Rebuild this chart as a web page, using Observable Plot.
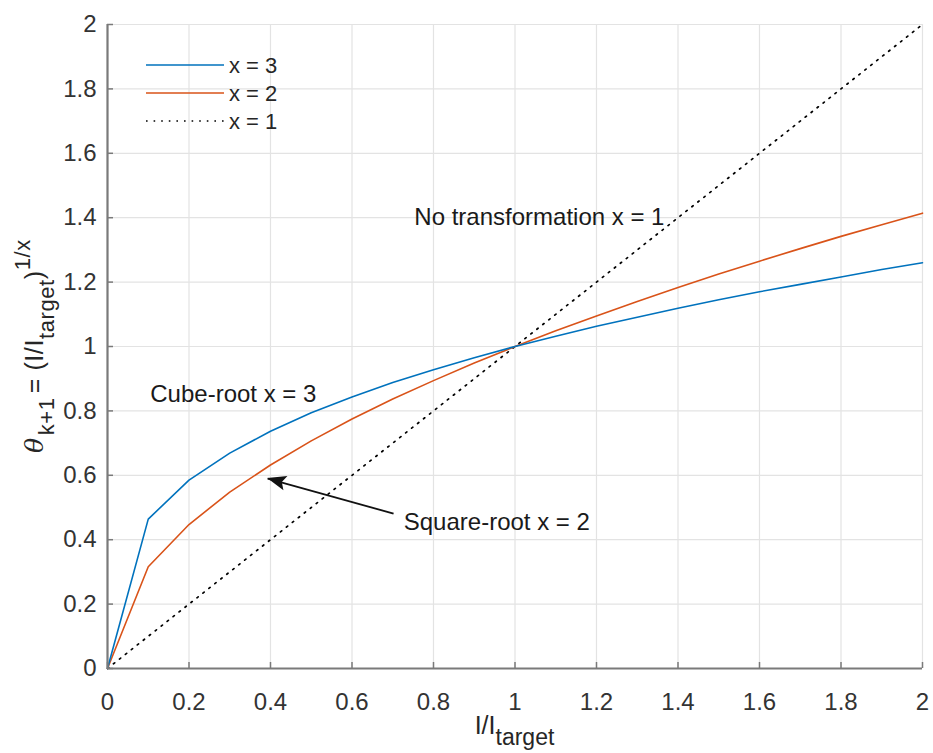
<!DOCTYPE html>
<html>
<head>
<meta charset="utf-8">
<script src="https://cdn.jsdelivr.net/npm/d3@7"></script>
<script src="https://cdn.jsdelivr.net/npm/@observablehq/plot@0.6"></script>
<style>
  html, body { margin: 0; padding: 0; background: #fff; }
  #chart { position: relative; width: 933px; height: 753px; }
</style>
</head>
<body>
<div id="chart"></div>
<script>
// ---- data ----
const ratio = [0, 0.1, 0.2, 0.3, 0.4, 0.5, 0.6, 0.7, 0.8, 0.9, 1.0, 1.1, 1.2, 1.3, 1.4, 1.5, 1.6, 1.7, 1.8, 1.9, 2.0];
const cubeRoot = [0, 0.464, 0.585, 0.669, 0.737, 0.794, 0.843, 0.888, 0.928, 0.965, 1.0, 1.032, 1.063, 1.091, 1.119, 1.145, 1.170, 1.193, 1.216, 1.239, 1.260];
const squareRoot = [0, 0.316, 0.447, 0.548, 0.632, 0.707, 0.775, 0.837, 0.894, 0.949, 1.0, 1.049, 1.095, 1.140, 1.183, 1.225, 1.265, 1.304, 1.342, 1.378, 1.414];
const linear = [0, 0.1, 0.2, 0.3, 0.4, 0.5, 0.6, 0.7, 0.8, 0.9, 1.0, 1.1, 1.2, 1.3, 1.4, 1.5, 1.6, 1.7, 1.8, 1.9, 2.0];
const seriesNames = ["x = 3", "x = 2", "x = 1"];
const xTicks = [0, 0.2, 0.4, 0.6, 0.8, 1, 1.2, 1.4, 1.6, 1.8, 2];
const yTicks = [0, 0.2, 0.4, 0.6, 0.8, 1, 1.2, 1.4, 1.6, 1.8, 2];
const annotationText = ["No transformation x = 1", "Cube-root x = 3", "Square-root x = 2"];
const annotationX = [0.753, 0.105, 0.727];
const annotationY = [1.40, 0.851, 0.455];
const arrowFrom = [0.702, 0.481];
const arrowTo = [0.393, 0.590];

const colors = ["#0072BD", "#D95319", "#000000"];
const FONT = "'Liberation Sans', Arial, Helvetica, sans-serif";
const DOTS = "1.6,6";

const mk = (ys) => ratio.map((r, i) => ({x: r, y: ys[i]}));
const annotations = annotationText.map((t, i) => ({text: t, x: annotationX[i], y: annotationY[i]}));

const W = 933, H = 753;
const plot = Plot.plot({
  width: W,
  height: H,
  marginLeft: 107,
  marginRight: 11,
  marginTop: 24,
  marginBottom: 85,
  style: {fontFamily: FONT, fontSize: "24px", color: "#262626", background: "#fff"},
  x: {domain: [0, 2]},
  y: {domain: [0, 2]},
  marks: [
    Plot.gridX(xTicks, {stroke: "#e3e3e3", strokeOpacity: 1, strokeWidth: 1.2}),
    Plot.gridY(yTicks, {stroke: "#e3e3e3", strokeOpacity: 1, strokeWidth: 1.2}),
    Plot.line(mk(linear), {x: "x", y: "y", stroke: colors[2], strokeWidth: 1.7, strokeDasharray: DOTS}),
    Plot.line(mk(squareRoot), {x: "x", y: "y", stroke: colors[1], strokeWidth: 1.6}),
    Plot.line(mk(cubeRoot), {x: "x", y: "y", stroke: colors[0], strokeWidth: 1.6}),
    Plot.ruleX([0], {stroke: "#7a7a7a", strokeWidth: 2.2}),
    Plot.ruleY([0], {stroke: "#7a7a7a", strokeWidth: 2.2}),
    Plot.axisX(xTicks, {tickSize: -6, tickPadding: 30, stroke: "#7a7a7a", strokeWidth: 1.5, fill: "#333", fontSize: 24, label: null, tickFormat: d => String(d)}),
    Plot.axisY(yTicks, {tickSize: -6, tickPadding: 17, stroke: "#7a7a7a", strokeWidth: 1.5, fill: "#333", fontSize: 24, label: null, tickFormat: d => String(d)}),
    Plot.text(annotations, {x: "x", y: "y", text: "text", textAnchor: "start", fontSize: 24, fill: "#1a1a1a"}),
    Plot.link([{x1: arrowFrom[0], y1: arrowFrom[1], x2: arrowTo[0], y2: arrowTo[1]}], {x1: "x1", y1: "y1", x2: "x2", y2: "y2", stroke: "#111", strokeWidth: 1.8})
  ]
});

document.getElementById("chart").appendChild(plot);

const svg = d3.select(plot);
const sx = plot.scale("x"), sy = plot.scale("y");

// filled arrow head at the tip, oriented along the link
{
  const tx = sx.apply(arrowTo[0]), ty = sy.apply(arrowTo[1]);
  const fx = sx.apply(arrowFrom[0]), fy = sy.apply(arrowFrom[1]);
  const dx = fx - tx, dy = fy - ty, len = Math.hypot(dx, dy);
  const ux = dx / len, uy = dy / len;
  const hl = 19, hw = 7.5;
  const bx = tx + ux * hl, by = ty + uy * hl;
  const pts = [[tx, ty], [bx - uy * hw, by + ux * hw], [tx + ux * hl * 0.8, ty + uy * hl * 0.8], [bx + uy * hw, by - ux * hw]];
  svg.append("polygon").attr("points", pts.map(p => p.join(",")).join(" ")).attr("fill", "#111");
}

// axis labels with sub/superscripts
const cx = (sx.apply(0) + sx.apply(2)) / 2;
const cy = (sy.apply(0) + sy.apply(2)) / 2;

const xl = svg.append("text")
  .attr("x", cx).attr("y", 734)
  .attr("text-anchor", "middle")
  .attr("fill", "#262626")
  .style("font-family", FONT).style("font-size", "25px");
xl.append("tspan").text("I/I");
xl.append("tspan").attr("dy", 11).style("font-size", "23px").text("target");

const yl = svg.append("text")
  .attr("transform", `translate(43,${cy}) rotate(-90)`)
  .attr("text-anchor", "middle")
  .attr("fill", "#262626")
  .style("font-family", FONT).style("font-size", "25px")
  .style("letter-spacing", "0.6px");
yl.append("tspan").style("font-style", "italic").style("font-family", "'DejaVu Serif', serif").text("θ");
yl.append("tspan").attr("dx", 2).attr("dy", 11).style("font-size", "22px").text("k+1");
yl.append("tspan").attr("dx", 4).attr("dy", -11).text("= (I/I");
yl.append("tspan").attr("dy", 11).style("font-size", "22px").text("target");
yl.append("tspan").attr("dy", -11).text(")");
yl.append("tspan").attr("dy", -13).style("font-size", "22px").text("1/x");

// legend
const legendY = [65, 93, 121];
const lg = svg.append("g").style("font-family", FONT).style("font-size", "22px");
seriesNames.forEach((name, i) => {
  lg.append("line")
    .attr("x1", 146).attr("x2", 224)
    .attr("y1", legendY[i]).attr("y2", legendY[i])
    .attr("stroke", colors[i]).attr("stroke-width", 1.6)
    .attr("stroke-dasharray", i === 2 ? DOTS : null);
  lg.append("text")
    .attr("x", 229).attr("y", legendY[i]).attr("dy", "0.35em")
    .attr("text-anchor", "start")
    .attr("fill", "#262626")
    .text(name);
});
</script>
</body>
</html>
